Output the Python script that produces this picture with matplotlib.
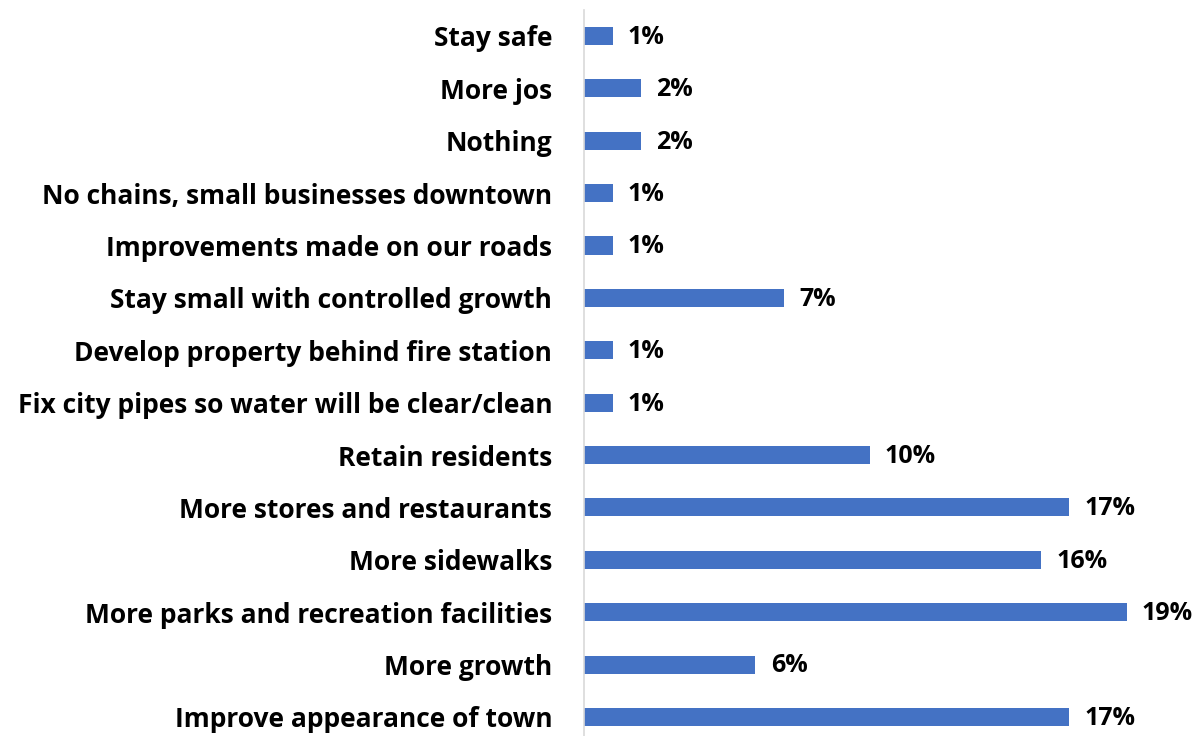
import matplotlib
matplotlib.use("Agg")
import matplotlib.pyplot as plt

plt.rcParams['font.family'] = ['Open Sans', 'DejaVu Sans']

# top-to-bottom order as listed
categories = [
    "Stay safe",
    "More jos",
    "Nothing",
    "No chains, small businesses downtown",
    "Improvements made on our roads",
    "Stay small with controlled growth",
    "Develop property behind fire station",
    "Fix city pipes so water will be clear/clean",
    "Retain residents",
    "More stores and restaurants",
    "More sidewalks",
    "More parks and recreation facilities",
    "More growth",
    "Improve appearance of town",
]
percents = [1, 2, 2, 1, 1, 7, 1, 1, 10, 17, 16, 19, 6, 17]

fig = plt.figure(figsize=(12.02, 7.36), dpi=100)
ax = fig.add_axes([0.486, 0.0, 0.475, 1.0])

n = len(categories)
ypos = [n - 1 - i for i in range(n)]
ax.barh(ypos, percents, height=0.345, color="#4472C4")

for y, v in zip(ypos, percents):
    ax.annotate(f"{v}%", (v, y), xytext=(11, -1), textcoords="offset points",
                va="center", ha="left", fontsize=18, fontweight="bold",
                color="black", annotation_clip=False)

ax.set_xlim(0, 20)
ax.set_ylim(-0.363, 13.687)
ax.set_yticks(ypos)
ax.set_yticklabels(categories, fontsize=19, fontweight="bold")
ax.tick_params(axis="y", length=0, pad=23)
ax.set_xticks([])

for side in ("top", "right", "bottom"):
    ax.spines[side].set_visible(False)
ax.spines["left"].set_color("#D9D9D9")
ax.spines["left"].set_linewidth(1.2)
ax.spines["left"].set_bounds(-0.363, 13.5)

fig.savefig("out.png", dpi=100)
